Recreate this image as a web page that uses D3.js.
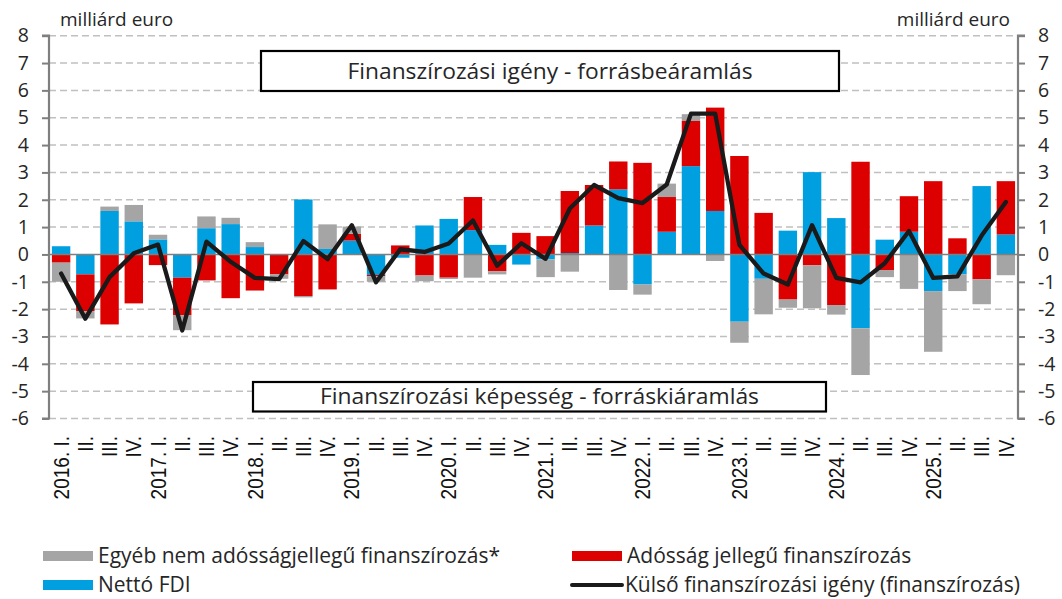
<!DOCTYPE html>
<html>
<head>
<meta charset="utf-8">
<script src="https://cdn.jsdelivr.net/npm/d3@7/dist/d3.min.js"></script>
<style>
  html, body { margin: 0; padding: 0; background: #fff; }
  svg { display: block; font-family: "Open Sans", "Noto Sans", sans-serif; }
</style>
</head>
<body>
<svg id="chart" width="1062" height="599"></svg>
<script>
// negyedéves adatok, milliárd euro — 2016. I. – 2025. IV.
const periods = [
  '2016. I.', 'II.', 'III.', 'IV.', '2017. I.', 'II.', 'III.', 'IV.',
  '2018. I.', 'II.', 'III.', 'IV.', '2019. I.', 'II.', 'III.', 'IV.',
  '2020. I.', 'II.', 'III.', 'IV.', '2021. I.', 'II.', 'III.', 'IV.',
  '2022. I.', 'II.', 'III.', 'IV.', '2023. I.', 'II.', 'III.', 'IV.',
  '2024. I.', 'II.', 'III.', 'IV.', '2025. I.', 'II.', 'III.', 'IV.'
];

// Nettó FDI
const fdi = [
  0.30, -0.73, 1.59, 1.21,   0.55, -0.85, 0.96, 1.11,
  0.27, 0.00, 2.01, 0.20,    0.51, -0.75, -0.12, 1.06,
  1.30, 0.89, 0.35, -0.37,   -0.18, 0.05, 1.06, 2.38,
  -1.10, 0.83, 3.23, 1.59,   -2.46, -0.89, 0.87, 3.01,
  1.33, -2.70, 0.54, 0.83,   -1.34, -0.73, 2.50, 0.73
];

// Adósság jellegű finanszírozás
const debt = [
  -0.30, -1.34, -2.56, -1.79,  -0.39, -1.37, -0.95, -1.60,
  -1.32, -0.73, -1.52, -1.28,  0.24, -0.05, 0.33, -0.77,
  -0.85, 1.21, -0.61, 0.79,    0.67, 2.27, 1.48, 1.02,
  3.35, 1.27, 1.65, 3.78,      3.60, 1.52, -1.65, -0.40,
  -1.85, 3.39, -0.57, 1.30,    2.68, 0.59, -0.91, 1.95
];

// Egyéb nem adósságjellegű finanszírozás*
const other = [
  -0.70, -0.27, 0.16, 0.60,   0.17, -0.55, 0.43, 0.23,
  0.18, -0.16, -0.05, 0.90,   0.27, -0.20, 0.00, -0.21,
  -0.05, -0.85, -0.12, 0.00,  -0.65, -0.63, 0.00, -1.30,
  -0.37, 0.49, 0.25, -0.24,   -0.77, -1.30, -0.30, -1.57,
  -0.35, -1.71, -0.26, -1.26, -2.22, -0.61, -0.91, -0.76
];

// Külső finanszírozási igény (finanszírozás)
const need = [
  -0.70, -2.35, -0.83, 0.04,  0.36, -2.78, 0.47, -0.27,
  -0.86, -0.90, 0.49, -0.17,  1.07, -1.02, 0.19, 0.09,
  0.40, 1.24, -0.41, 0.41,    -0.16, 1.68, 2.54, 2.06,
  1.88, 2.56, 5.15, 5.15,     0.35, -0.70, -1.10, 1.07,
  -0.86, -1.02, -0.32, 0.86,  -0.86, -0.80, 0.69, 1.92
];

const yTicks = [-6, -5, -4, -3, -2, -1, 0, 1, 2, 3, 4, 5, 6, 7, 8];

const COL = { fdi: '#009fdf', debt: '#dd0000', other: '#a5a5a5', line: '#1a1a1a', axis: '#7f7f7f', grid: '#c0c0c0', text: '#262626' };

const svg = d3.select('#chart');
const pLeft = 49, pRight = 1018, pTop = 35.7, pBottom = 418.5;

const x = d3.scaleBand().domain(d3.range(periods.length)).range([pLeft, pRight])
  .paddingInner(0.24).paddingOuter(0.12);
const y = d3.scaleLinear().domain([-6, 8]).range([pBottom, pTop]);

// rácsvonalak
svg.append('g').selectAll('line').data(yTicks.filter(t => t !== 0)).join('line')
  .attr('x1', pLeft).attr('x2', pRight)
  .attr('y1', d => y(d)).attr('y2', d => y(d))
  .attr('stroke', COL.grid).attr('stroke-width', 1.5).attr('stroke-dasharray', '7,4');

// halmozott oszlopok: FDI alul, majd adósság, végül egyéb
const rows = periods.map((p, i) => ({ i, fdi: fdi[i], debt: debt[i], other: other[i] }));
const keys = ['fdi', 'debt', 'other'];
const stacked = d3.stack().keys(keys).offset(d3.stackOffsetDiverging)(rows);

svg.append('g').selectAll('g').data(stacked).join('g')
  .attr('fill', s => COL[s.key])
  .selectAll('rect').data(s => s).join('rect')
  .attr('x', d => x(d.data.i))
  .attr('width', x.bandwidth())
  .attr('y', d => y(Math.max(d[0], d[1])))
  .attr('height', d => Math.abs(y(d[0]) - y(d[1])));

// nulla-vonal
svg.append('line').attr('x1', pLeft).attr('x2', pRight).attr('y1', y(0)).attr('y2', y(0))
  .attr('stroke', COL.axis).attr('stroke-width', 1.6);

// külső finanszírozási igény
const line = d3.line().x((d, i) => x(i) + x.bandwidth() / 2).y(d => y(d));
svg.append('path').datum(need).attr('d', line)
  .attr('fill', 'none').attr('stroke', COL.line).attr('stroke-width', 4.3)
  .attr('stroke-linejoin', 'round').attr('stroke-linecap', 'round');

// tengelyek — sima kötőjel a mínuszjel helyett, mint az eredetin
const axL = svg.append('g').attr('transform', `translate(${pLeft},0)`)
  .call(d3.axisLeft(y).tickValues(yTicks).tickSize(7).tickFormat(d => String(d)));
const axR = svg.append('g').attr('transform', `translate(${pRight},0)`)
  .call(d3.axisRight(y).tickValues(yTicks).tickSize(7).tickFormat(d => String(d)));
[axL, axR].forEach(ax => {
  ax.select('.domain').attr('stroke', COL.axis).attr('stroke-width', 2.2)
    .attr('d', ax === axL ? `M-7,${pTop}H0V${pBottom}H-7` : `M7,${pTop}H0V${pBottom}H7`);
  ax.selectAll('.tick line').attr('stroke', COL.axis).attr('stroke-width', 2);
  ax.selectAll('.tick text').attr('fill', COL.text).attr('font-size', 19.5)
    .attr('font-family', '"Open Sans", sans-serif');
});
axL.selectAll('.tick text').attr('x', -20);
axR.selectAll('.tick text').attr('x', 20);

// x tengely feliratai, függőlegesen
svg.append('g').selectAll('text').data(periods).join('text')
  .attr('transform', (d, i) => `translate(${x(i) + x.bandwidth() / 2},436) rotate(-90) scale(1,1.15)`)
  .attr('text-anchor', 'end').attr('dy', '0.35em')
  .attr('font-family', '"Liberation Sans", Arial, sans-serif').attr('font-size', 19)
  .attr('fill', '#111').text(d => d);

// mértékegység
svg.append('text').attr('x', 60).attr('y', 26).attr('font-size', 19).attr('fill', COL.text).text('milliárd euro');
svg.append('text').attr('x', 1010).attr('y', 26).attr('text-anchor', 'end').attr('font-size', 19).attr('fill', COL.text).text('milliárd euro');

// magyarázó dobozok
const boxes = [
  { label: 'Finanszírozási igény - forrásbeáramlás', x0: 261, x1: 839, y0: 51, y1: 91, w: 405 },
  { label: 'Finanszírozási képesség - forráskiáramlás', x0: 253, x1: 826, y0: 382, y1: 411.5, w: 439 }
];
boxes.forEach(b => {
  svg.append('rect').attr('x', b.x0).attr('y', b.y0).attr('width', b.x1 - b.x0).attr('height', b.y1 - b.y0)
    .attr('fill', '#fff').attr('stroke', '#000').attr('stroke-width', 2.2);
  svg.append('text').attr('x', (b.x0 + b.x1) / 2).attr('y', (b.y0 + b.y1) / 2).attr('dy', '0.35em')
    .attr('text-anchor', 'middle').attr('font-size', 22).attr('fill', COL.text)
    .attr('textLength', b.w).attr('lengthAdjust', 'spacingAndGlyphs').text(b.label);
});

// jelmagyarázat
const legend = [
  { label: 'Egyéb nem adósságjellegű finanszírozás*', type: 'rect', color: COL.other, lx: 43, ly: 556 },
  { label: 'Adósság jellegű finanszírozás', type: 'rect', color: COL.debt, lx: 572, ly: 556 },
  { label: 'Nettó FDI', type: 'rect', color: COL.fdi, lx: 43, ly: 585 },
  { label: 'Külső finanszírozási igény (finanszírozás)', type: 'line', color: COL.line, lx: 572, ly: 585 }
];
const lg = svg.append('g').selectAll('g').data(legend).join('g')
  .attr('transform', d => `translate(${d.lx},${d.ly})`);
lg.filter(d => d.type === 'rect').append('rect')
  .attr('x', 0).attr('y', -5).attr('width', 50).attr('height', 10).attr('fill', d => d.color);
lg.filter(d => d.type === 'line').append('line')
  .attr('x1', 0).attr('x2', 50).attr('y1', 0).attr('y2', 0)
  .attr('stroke', d => d.color).attr('stroke-width', 4).attr('stroke-linecap', 'round');
lg.append('text').attr('x', d => d.type === 'line' ? 53 : 55).attr('dy', '0.35em')
  .attr('font-size', 21).attr('fill', COL.text).text(d => d.label);
</script>
</body>
</html>
